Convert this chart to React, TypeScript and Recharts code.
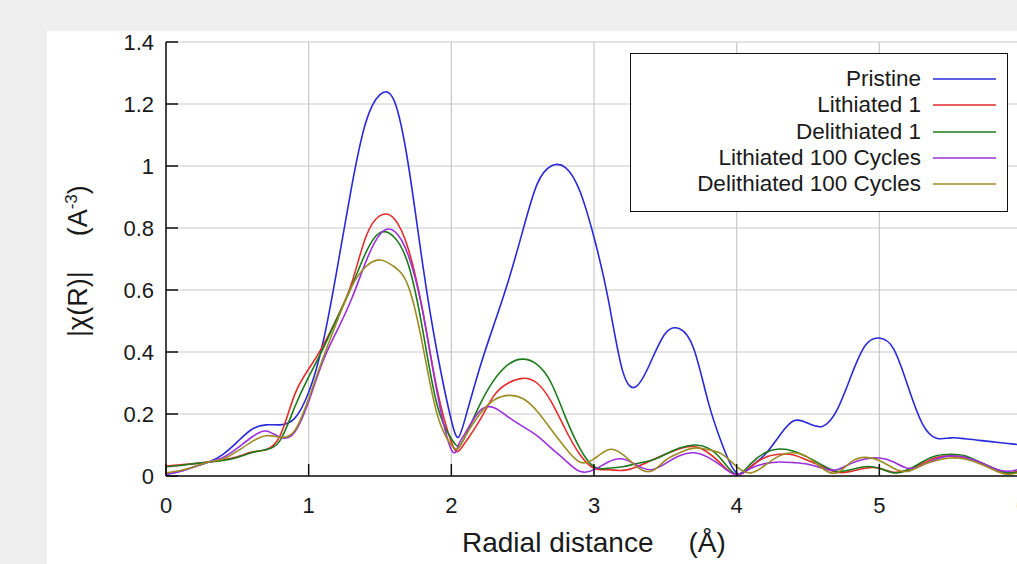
import React from "react";
import { CartesianGrid, Label, Legend, Line, LineChart, XAxis, YAxis } from "recharts";

// radial distance (Å)
const xs = [
  0, 0.1, 0.2, 0.3, 0.4, 0.5, 0.6, 0.7, 0.8, 0.9, 1.0, 1.1, 1.2, 1.3, 1.4, 1.5, 1.6, 1.7, 1.8, 1.9, 2.0,
  2.05, 2.1, 2.2, 2.3, 2.4, 2.5, 2.6, 2.7, 2.8, 2.9, 3.0, 3.1, 3.2, 3.3, 3.4, 3.5, 3.6, 3.7, 3.8, 3.9, 4.0,
  4.1, 4.2, 4.3, 4.4, 4.5, 4.6, 4.7, 4.8, 4.9, 5.0, 5.1, 5.2, 5.3, 5.4, 5.5, 5.6, 5.7, 5.8, 5.9, 6.0,
];

const pristine = [
  0.005, 0.015, 0.03, 0.045, 0.07, 0.11, 0.15, 0.165, 0.165, 0.185, 0.27, 0.43, 0.67, 0.93, 1.14, 1.23, 1.21, 1.0, 0.68, 0.4, 0.18,
  0.125, 0.19, 0.35, 0.49, 0.63, 0.79, 0.94, 1.0, 0.995, 0.92, 0.77, 0.57, 0.34, 0.29, 0.37, 0.46, 0.475, 0.41, 0.24, 0.1, 0.01,
  0.03, 0.07, 0.13, 0.178, 0.17, 0.16, 0.21, 0.32, 0.42, 0.445, 0.41, 0.29, 0.17, 0.122, 0.123, 0.12, 0.115, 0.11, 0.105, 0.1,
];

const lithiated1 = [
  0.032, 0.036, 0.04, 0.045, 0.052, 0.062, 0.077, 0.085, 0.13, 0.26, 0.345, 0.42, 0.51, 0.62, 0.77, 0.84, 0.83, 0.73, 0.53, 0.28, 0.11,
  0.08, 0.11, 0.18, 0.26, 0.3, 0.315, 0.3, 0.24, 0.15, 0.07, 0.025, 0.02, 0.018, 0.03, 0.05, 0.07, 0.088, 0.095, 0.075, 0.035, 0.003,
  0.03, 0.06, 0.07, 0.068, 0.05, 0.03, 0.012, 0.015, 0.025, 0.025, 0.012, 0.02, 0.04, 0.06, 0.065, 0.06, 0.045, 0.025, 0.01, 0.02,
];

const delithiated1 = [
  0.03, 0.034, 0.04, 0.045, 0.05, 0.06, 0.075, 0.085, 0.115, 0.22, 0.32, 0.41, 0.51, 0.61, 0.72, 0.785, 0.77, 0.68, 0.47, 0.23, 0.12,
  0.095, 0.13, 0.23, 0.31, 0.36, 0.377, 0.36, 0.3, 0.19, 0.09, 0.03, 0.025, 0.03, 0.04, 0.05, 0.07, 0.09, 0.1, 0.09, 0.05, 0.005,
  0.04, 0.075, 0.087, 0.08, 0.06, 0.035, 0.015, 0.02, 0.03, 0.025, 0.01, 0.02, 0.045, 0.065, 0.07, 0.065, 0.045, 0.025, 0.01, 0.015,
];

const lithiated100 = [
  0.005, 0.015, 0.03, 0.045, 0.06, 0.09, 0.125, 0.145, 0.125, 0.14, 0.24, 0.37, 0.47, 0.57, 0.69, 0.78, 0.79, 0.71, 0.53, 0.27, 0.085,
  0.1, 0.14, 0.21, 0.22, 0.19, 0.16, 0.13, 0.09, 0.05, 0.015, 0.02, 0.045, 0.055, 0.035, 0.02, 0.04, 0.065, 0.075, 0.06, 0.03, 0.005,
  0.025, 0.04, 0.045, 0.043, 0.038, 0.025, 0.02, 0.04, 0.055, 0.058, 0.045, 0.025, 0.035, 0.055, 0.065, 0.06, 0.045, 0.025, 0.015, 0.025,
];

const delithiated100 = [
  0.01, 0.018, 0.03, 0.045, 0.055, 0.08, 0.11, 0.13, 0.125, 0.145, 0.25, 0.38, 0.5, 0.61, 0.675, 0.697, 0.675, 0.61, 0.42, 0.2, 0.1,
  0.09, 0.13, 0.2, 0.245, 0.26, 0.25, 0.21, 0.15, 0.09, 0.045, 0.055, 0.085, 0.07, 0.03, 0.015, 0.05, 0.075, 0.09, 0.085, 0.07, 0.03,
  0.01, 0.035, 0.065, 0.075, 0.06, 0.025, 0.01, 0.045, 0.06, 0.05, 0.025, 0.015, 0.035, 0.05, 0.058, 0.055, 0.04, 0.02, 0.005, 0.015,
];

const xTicks = [0, 1, 2, 3, 4, 5, 6];
const yTicks = [0, 0.2, 0.4, 0.6, 0.8, 1, 1.2, 1.4];

const series = [
  { key: "pristine", name: "Pristine", color: "#2a2ad8", values: pristine },
  { key: "lithiated1", name: "Lithiated 1", color: "#e42c2c", values: lithiated1 },
  { key: "delithiated1", name: "Delithiated 1", color: "#1d7a1d", values: delithiated1 },
  { key: "lithiated100", name: "Lithiated 100 Cycles", color: "#9c30dc", values: lithiated100 },
  { key: "delithiated100", name: "Delithiated 100 Cycles", color: "#9d8c22", values: delithiated100 },
];

const rows = xs.map((x, i) => {
  const row: Record<string, number> = { x };
  series.forEach((s) => {
    row[s.key] = s.values[i];
  });
  return row;
});

const FONT = '"Liberation Sans", Arial, sans-serif';
const tickStyle = { fill: "#1a1a1a", fontSize: 22 };

function XTitle(props: any) {
  const { viewBox } = props;
  const y = viewBox.y + 76;
  return (
    <text x={462} y={y} fontSize={28} fill="#1a1a1a">
      Radial distance
      <tspan dx={35}>(Å)</tspan>
    </text>
  );
}

function YTitle(props: any) {
  const { viewBox } = props;
  const x = viewBox.x - 19;
  const y = 337;
  return (
    <text x={x} y={y} fontSize={27} fill="#1a1a1a" transform={`rotate(-90, ${x}, ${y})`}>
      |χ(R)|
      <tspan dx={35}>(A</tspan>
      <tspan dy={-10} fontSize={17}>-3</tspan>
      <tspan dy={10}>)</tspan>
    </text>
  );
}

// legend drawn in the series order, like the gnuplot key
function LegendBox() {
  return (
    <div
      style={{
        width: 378,
        height: 159,
        boxSizing: "border-box",
        border: "1.5px solid #111",
        background: "#fff",
        paddingTop: 12,
        paddingRight: 11,
        fontFamily: FONT,
      }}
    >
      {series.map((s) => (
        <div
          key={s.key}
          style={{ display: "flex", justifyContent: "flex-end", alignItems: "center", height: 26.3 }}
        >
          <span style={{ fontSize: 22.5, color: "#1a1a1a", lineHeight: "26px" }}>{s.name}</span>
          <svg width={75} height={4} style={{ display: "block" }}>
            <line x1={12} x2={75} y1={2} y2={2} stroke={s.color} strokeWidth={1.6} />
          </svg>
        </div>
      ))}
    </div>
  );
}

export default function App() {
  return (
    <div
      style={{
        position: "fixed",
        left: 0,
        top: 0,
        width: 1017,
        height: 564,
        background: "#efefef",
        overflow: "hidden",
        fontFamily: FONT,
      }}
    >
      <div style={{ position: "absolute", left: 47, top: 31, right: 0, bottom: 0, background: "#fff" }} />
      <div style={{ position: "absolute", left: 0, top: 0 }}>
        <LineChart width={1100} height={564} data={rows} margin={{ top: 42, right: 78, bottom: 58, left: 106 }}>
          <CartesianGrid stroke="#c9c9c9" strokeWidth={1.2} />
          <XAxis
            dataKey="x"
            type="number"
            domain={[0, 6]}
            ticks={xTicks}
            height={30}
            tick={tickStyle}
            tickSize={-12}
            tickMargin={33}
            axisLine={{ stroke: "#111", strokeWidth: 1.5 }}
            tickLine={{ stroke: "#111", strokeWidth: 1.5 }}
          >
            <Label content={XTitle} />
          </XAxis>
          <XAxis
            xAxisId="top"
            orientation="top"
            dataKey="x"
            type="number"
            domain={[0, 6]}
            ticks={xTicks}
            height={0}
            tick={false}
            tickSize={-8}
            axisLine={{ stroke: "#111", strokeWidth: 1.5 }}
            tickLine={{ stroke: "#111", strokeWidth: 1.5 }}
          />
          <YAxis
            type="number"
            domain={[0, 1.4]}
            ticks={yTicks}
            width={60}
            tick={tickStyle}
            tickSize={-12}
            tickMargin={24}
            axisLine={{ stroke: "#111", strokeWidth: 1.5 }}
            tickLine={{ stroke: "#111", strokeWidth: 1.5 }}
          >
            <Label content={YTitle} />
          </YAxis>
          <YAxis
            yAxisId="right"
            orientation="right"
            type="number"
            domain={[0, 1.4]}
            ticks={yTicks}
            width={0}
            tick={false}
            tickSize={-12}
            axisLine={{ stroke: "#111", strokeWidth: 1.5 }}
            tickLine={{ stroke: "#111", strokeWidth: 1.5 }}
          />
          <Legend
            layout="horizontal"
            verticalAlign="middle"
            align="center"
            content={LegendBox}
            wrapperStyle={{ left: 630, top: 53, right: "auto", bottom: "auto", width: 378, height: 159 }}
          />
          {series.map((s) => (
            <Line
              key={s.key}
              dataKey={s.key}
              name={s.name}
              stroke={s.color}
              strokeWidth={1.6}
              type="natural"
              dot={false}
              isAnimationActive={false}
            />
          ))}
        </LineChart>
      </div>
    </div>
  );
}
